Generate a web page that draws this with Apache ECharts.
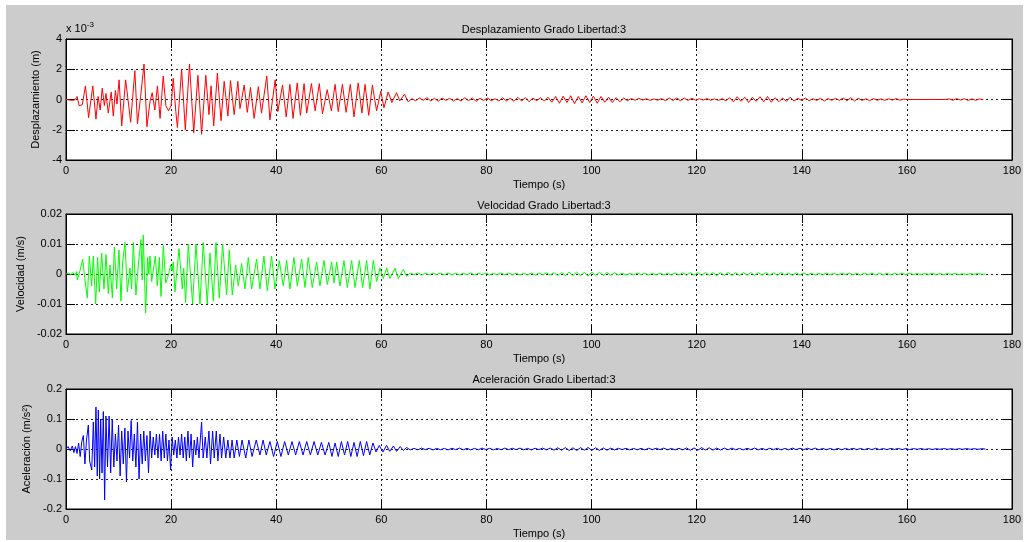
<!DOCTYPE html>
<html><head><meta charset="utf-8">
<script src="https://cdn.jsdelivr.net/npm/echarts@6/dist/echarts.min.js"></script>
<style>html,body{margin:0;padding:0;background:#fff}#c{width:1029px;height:542px}</style>
</head><body><div id="c"></div>
<script>
// ---------- DATA ----------
const titles = ['Desplazamiento Grado Libertad:3', 'Velocidad Grado Libertad:3', 'Aceleración Grado Libertad:3'];
const yNames = ['Desplazamiento (m)', 'Velocidad (m/s)', 'Aceleración (m/s²)'];
const xName = 'Tiempo (s)';
const xTicks = [0, 20, 40, 60, 80, 100, 120, 140, 160, 180];
const dispTicks = [-4, -2, 0, 2, 4];          // ×10^-3 m
const velTicks = [-0.02, -0.01, 0, 0.01, 0.02]; // m/s
const accTicks = [-0.2, -0.1, 0, 0.1, 0.2];    // m/s²

// Displacement (×10^-3 m): extremes [t, value]
const dispMain = [[0,0],[0.6,-0.03],[1.2,-0.06],[1.7,-0.02],[2.1,0.2],[2.5,-0.4],[3.1,-0.35],[3.7,0.9],[4.3,-1.2],[5.1,0.9],[5.7,-1.3],[6.1,0.2],[6.5,-0.7],[6.9,0.75],[7.3,-0.4],[7.6,0.4],[8.05,-0.9],[8.6,0.5],[9.0,-1.1],[9.4,0.6],[9.7,-0.3],[10.1,1.3],[10.6,-1.75],[11.35,1.3],[11.9,-0.3],[12.3,-1.5],[12.6,-0.2],[13.1,1.9],[13.6,-1.6],[14.2,0.2],[14.85,2.35],[15.4,-1.8],[16.0,-0.1],[16.4,0.45],[16.9,-0.7],[17.4,0.9],[17.9,-1.25],[18.5,1.55],[19.0,-0.4],[19.5,-0.75],[20.0,-0.4],[20.4,1.4],[20.9,-0.8],[21.2,-1.85],[22.0,2.0],[22.7,-2.0],[23.5,2.35],[24.3,-2.2],[25.1,1.6],[25.8,-2.3],[26.6,1.6],[27.2,-1.0],[27.6,0.9],[28.1,-1.75],[28.8,1.75],[29.5,-1.4],[30.1,1.2],[30.8,-1.1],[31.3,1.25],[32.0,-1.0],[32.7,1.2],[33.1,-0.6],[33.9,0.95],[34.5,-0.85],[35.1,0.8],[35.8,-1.25],[36.6,0.85],[37.2,-0.9],[38.2,1.55],[38.8,-1.35],[39.8,1.3],[40.3,-0.8],[41.2,0.95],[41.9,-1.15],[42.6,1.0],[43.2,-1.25],[44.0,1.1],[44.6,-1.05],[45.3,1.05],[45.8,-0.9],[46.7,1.05],[47.4,-0.75],[48.2,1.05],[48.8,-0.95],[49.7,0.65],[50.5,-0.75],[51.2,1.0],[51.8,-0.8],[52.6,1.0],[53.3,-0.85],[54.1,1.0],[54.8,-1.15],[55.6,1.1],[56.3,-0.9],[56.9,1.0],[57.6,-1.05],[58.3,0.95],[59.1,-0.75],[59.9,0.55],[60.5,-0.55],[61.3,0.5],[62.0,-0.2],[62.9,0.45],[63.5,-0.1],[64.4,0.35],[65.1,-0.15]];
const dispTailStart = 65.8, dispTailStep = 0.72;
const dispTail = [0.05,-0.08,0.1,-0.05,0.12,-0.1,0.08,-0.12,0.1,-0.06,0.08,-0.1,0.06,
-0.1,0.12,-0.08,0.1,-0.12,0.08,-0.06,0.1,-0.08,0.05,-0.1,0.12,-0.1,0.08,
-0.12,0.15,-0.1,0.12,-0.15,0.1,-0.08,0.12,-0.1,0.15,-0.18,
0.2,-0.25,0.22,-0.2,0.25,-0.28,0.2,-0.22,0.25,-0.2,0.22,
-0.25,0.2,-0.18,0.15,-0.2,0.12,-0.15,0.1,
-0.08,0.06,-0.05,0.08,-0.04,0.05,-0.06,0.04,-0.05,0.06,-0.08,0.1,-0.06,
0.1,-0.08,0.1,-0.06,0.08,-0.05,
0.05,-0.04,0.06,-0.05,0.04,-0.06,0.05,-0.08,
0.12,-0.15,0.18,-0.12,0.15,-0.2,0.15,-0.12,0.18,-0.15,0.2,-0.18,0.12,-0.15,0.1,-0.12,0.15,-0.1,
0.08,-0.06,0.1,-0.08,0.05,-0.06,0.08,-0.1,0.06,-0.05,0.08,-0.06,0.1,-0.08,0.12,-0.1,0.08,-0.06,0.05,-0.08,0.06,-0.05,0.04,-0.06,0.05,-0.04,0.06,-0.05,0.03,
0,0,0,0,0,0,0,0,0,0,0,
0.04,-0.05,0.06,-0.04,0.05,-0.06,0.04,-0.05,0.03,0];

// Velocity (mm/s): extremes [t, value]
const velMain = [[0,0],[0.5,0.3],[0.9,-0.3],[1.3,0.5],[1.7,-0.4],[2.03,0.8],[2.15,-2],[2.65,1],[3.17,5],[3.61,-2],[4.06,-8],[4.44,6],[4.88,-4],[5.2,6],[5.64,-10],[6.02,5.5],[6.34,-6],[6.79,7],[7.23,-5],[7.61,6.5],[8.05,-6.5],[8.37,3],[8.82,-8],[9.2,9],[9.64,-5],[10.08,8],[10.46,-9],[10.78,4],[11.22,10.5],[11.67,-6],[12.17,2],[12.49,-5],[12.81,10.5],[13.31,-7],[13.76,3],[14.26,11.5],[14.5,-2],[14.71,13],[15.15,-13],[15.53,5.5],[15.75,0],[15.98,6],[16.3,-2.5],[16.62,-3],[17.0,6],[17.38,-4],[17.76,5.5],[18.08,-7.5],[18.52,9.5],[18.97,-3],[19.47,-0.5],[19.91,3],[20.2,1],[20.42,4],[20.73,-6],[21.5,8.5],[22.13,-5],[22.4,2],[22.76,-9.5],[23.27,10],[24.09,-10],[24.73,10],[25.49,-10],[26.12,10.5],[26.88,-10],[27.39,7],[28.03,-9],[28.54,10.5],[29.17,-8],[29.8,10],[30.56,-7],[31.07,8],[31.64,-7],[32.28,3],[32.78,-4],[33.42,3.5],[34.05,-5],[34.69,5.5],[35.32,-5],[36.27,5],[36.9,-5],[37.66,6],[38.3,-5.5],[39.12,6],[39.76,-5],[40.58,4.5],[41.34,-4],[41.98,4.5],[42.61,-5],[43.37,5.5],[44.01,-4],[44.83,5],[45.47,-4.5],[46.1,5.5],[46.86,-4.5],[47.69,4],[48.32,-4],[49.08,4.5],[49.72,-3.5],[50.55,4],[50.99,-3],[51.5,4],[52.13,-4],[52.89,4.5],[53.53,-4.5],[54.35,4.5],[54.99,-4.5],[55.81,4.5],[56.44,-4.5],[57.2,4.5],[57.84,-5],[58.47,4.5],[59.11,-2.5],[59.74,2],[60.37,-1.5],[61.01,2],[61.64,-1.5],[62.59,2],[63.23,-1.5],[64.18,1.5],[64.81,-0.8]];
const velTailStart = 65.5, velTailStep = 0.72;
const velTail = [0.3,-0.2,0.35,-0.3,0.2,-0.25,0.3,-0.2,0.25,-0.3,0.35,-0.25,0.2,-0.3,0.25,-0.2,0.3,-0.35,0.25,-0.2,0.3,-0.25,0.2,-0.3,0.35,-0.25,0.3,-0.2,0.25,-0.3,0.2,-0.25,0.3,-0.35,0.3,-0.25,0.35,-0.3,0.4,-0.45,0.5,
-0.55,0.6,-0.5,0.65,-0.6,0.55,-0.65,0.6,-0.5,0.55,-0.45,0.5,-0.4,0.35,
-0.3,0.25,-0.3,0.2,-0.25,0.3,-0.2,0.25,-0.3,0.2,-0.25,0.3,-0.25,0.2,-0.3,0.35,-0.3,0.4,
-0.4,0.45,-0.35,0.4,-0.45,0.5,-0.4,0.45,-0.5,0.4,-0.45,0.5,-0.45,0.4,-0.5,0.45,-0.4,0.5,-0.45,0.4,-0.35,0.45,-0.4,0.35,-0.4,0.45,-0.35,0.3,-0.4,0.35,-0.3,0.35,
-0.3,0.25,-0.3,0.2,-0.25,0.3,-0.25,0.2,-0.3,0.25,-0.2,0.3,-0.25,0.2,-0.3,0.25,-0.2,0.25,-0.3,0.2,-0.25,0.2,-0.3,0.25,-0.2,0.25,-0.2,0.3,
-0.2,0.15,-0.2,0.15,-0.1,0.2,-0.15,0.1,-0.2,0.15,-0.1,0.15,-0.2,0.1,-0.15,0.1,-0.1,0.15,-0.1,0];

// Acceleration (×0.01 m/s²): extremes [t, value]
const accMain = [[0,0],[0.4,0.8],[0.8,-0.6],[1.2,1],[1.5,-1.2],[1.8,0.8],[2.1,-1.5],[2.4,2],[2.7,-2.5],[3.0,2.5],[3.3,4.5],[3.6,-5],[3.9,3],[4.25,8],[4.5,-4],[4.9,-7],[5.2,9],[5.45,-6],[5.7,14],[5.95,-9],[6.15,13],[6.4,-10],[6.6,10],[6.85,-8],[7.1,12.5],[7.35,-17],[7.6,11],[7.9,-6],[8.2,11],[8.5,-8],[8.8,10],[9.1,-6],[9.4,5],[9.7,-4],[10.0,8],[10.3,-9],[10.6,6],[10.9,-5],[11.2,7],[11.5,-11],[11.8,6],[12.1,-3],[12.4,9.5],[12.7,-4],[13.0,5],[13.3,-6],[13.6,9],[13.9,-10],[14.2,5],[14.5,-5],[14.8,6],[15.1,-4],[15.4,4.5],[15.7,-8],[16.0,6],[16.3,-3],[16.6,4],[16.9,-2],[17.2,5],[17.5,-3],[17.8,5],[18.1,-4],[18.4,6],[18.7,-3],[19.0,5],[19.3,-4],[19.6,3],[19.9,-7],[20.2,4],[20.5,-2],[20.8,3],[21.1,-3],[21.4,4],[21.7,-2],[22.0,5],[22.3,-3],[22.6,4],[22.9,-4],[23.2,6],[23.5,-3],[23.8,5],[24.1,-6],[24.4,3],[24.7,-2],[25.0,4],[25.3,-3],[25.8,9],[26.1,-3],[26.5,4],[26.8,-3],[27.2,6],[27.5,-5],[27.9,6],[28.2,-3],[28.6,6],[28.9,-4],[29.3,5],[29.6,-3],[30.0,4],[30.4,-3],[30.8,3],[31.2,-3],[31.6,3],[32.0,-3],[32.5,3],[33.0,-2.5],[33.5,3],[34.2,-3],[34.8,3],[35.4,-2.5],[36.2,3],[36.9,-2],[37.5,3],[38.1,-2],[38.8,2.5],[39.5,-2.5],[40.2,2.5],[40.9,-2.5],[41.6,2.5],[42.3,-2],[43.0,2.5],[43.7,-2],[44.4,2.5],[45.1,-2],[45.8,2.5],[46.5,-2],[47.2,2.5],[47.9,-2],[48.6,2.2],[49.3,-2],[50.0,2.2],[50.6,-2.5],[51.2,2],[51.8,-2.5],[52.4,2.5],[53.0,-2],[53.6,2.5],[54.2,-2.5],[54.8,2.2],[55.4,-2.5],[56.0,2.5],[56.6,-2.2],[57.2,2.5],[57.8,-2],[58.4,2],[59.0,-1],[59.6,1.2],[60.3,-1],[61.0,1.2],[61.6,-0.8],[62.3,1],[62.9,-0.8],[63.6,0.8],[64.2,-0.5],[64.8,0.5]];
const accTailStart = 65.5, accTailStep = 0.72;
const accTail = [-0.3,0.2,-0.25,0.3,-0.2,0.25,-0.3,0.2,-0.25,0.2,-0.3,0.25,-0.2,0.3,-0.25,0.2,-0.3,0.2,-0.25,0.3,-0.2,0.25,-0.3,0.2,-0.25,0.3,-0.2,0.25,-0.2,0.3,-0.25,0.2,-0.3,0.25,-0.2,0.3,-0.25,0.3,-0.35,0.4,-0.4,
0.45,-0.5,0.4,-0.5,0.45,-0.4,0.5,-0.45,0.4,-0.45,0.35,-0.4,0.3,-0.3,
0.25,-0.2,0.25,-0.3,0.2,-0.25,0.2,-0.3,0.25,-0.2,0.25,-0.2,0.3,-0.25,0.2,-0.3,0.25,-0.3,
0.35,-0.4,0.35,-0.4,0.45,-0.35,0.4,-0.35,0.3,-0.35,0.3,-0.25,0.3,-0.25,0.2,-0.3,0.25,-0.2,0.3,-0.25,0.2,-0.3,0.25,-0.2,0.25,-0.3,0.2,-0.25,0.3,-0.2,0.25,-0.2,
0.25,-0.2,0.3,-0.25,0.2,-0.25,0.2,-0.3,0.2,-0.25,0.2,-0.2,0.25,-0.2,0.2,-0.25,0.2,-0.2,0.25,-0.2,0.15,-0.2,0.2,-0.15,0.2,-0.2,0.15,-0.2,
0.15,-0.1,0.15,-0.15,0.1,-0.15,0.1,-0.1,0.15,-0.1,0.1,-0.15,0.1,-0.1,0.15,-0.1,0.1,-0.1,0.1,0];

// ---------- BUILD ----------
function build(main, tail, start, step, scale) {
  const out = main.map(p => [p[0], p[1] * scale]);
  tail.forEach((v, i) => out.push([+(start + i * step).toFixed(3), v * scale]));
  return out;
}
const dispData = build(dispMain, dispTail, dispTailStart, dispTailStep, 1);
const velData = build(velMain, velTail, velTailStart, velTailStep, 0.001);
const accData = build(accMain, accTail, accTailStart, accTailStep, 0.01);

const FONT = 'Liberation Sans, Arial, sans-serif';
const L = 66, W = 946;
const grids = [{top: 39, h: 121}, {top: 214, h: 120}, {top: 389, h: 120}];
const yRanges = [dispTicks, velTicks, accTicks];
const yNameGaps = [21, 38, 30];
const colors = ['#ff0000', '#00ff00', '#0000ff'];
const datas = [dispData, velData, accData];
const titleTops = [19, 195, 369];

function fmt(v) {
  if (Math.abs(v) < 1e-12) return '0';
  return String(+v.toFixed(4));
}
const gridLine = {show: true, lineStyle: {color: '#1a1a1a', type: [2, 3], width: 1}};
const tickStyle = {show: true, inside: true, length: 9, lineStyle: {color: '#000'}};

const option = {
  animation: false,
  backgroundColor: 'transparent',
  textStyle: {fontFamily: FONT},
  title: titles.map((t, i) => ({
    text: t, left: L + W / 2, top: titleTops[i], textAlign: 'center',
    textStyle: {fontFamily: FONT, fontSize: 11, fontWeight: 'normal', color: '#000'}
  })),
  grid: grids.map(g => ({left: L, top: g.top, width: W, height: g.h, show: true,
    backgroundColor: '#fff', borderColor: '#000', borderWidth: 1, containLabel: false})),
  xAxis: [],
  yAxis: [],
  series: [],
  graphic: [
    {type: 'rect', z: -10, silent: true, shape: {x: 6, y: 5, width: 1017, height: 535}, style: {fill: '#cccccc'}},
    {type: 'text', left: 66, top: 21, z: 100, style: {
      text: 'x 10{s|-3}', fill: '#000', font: '11px ' + FONT,
      rich: {s: {fontSize: 8, fontFamily: FONT, verticalAlign: 'top', padding: [0, 0, 7, 0]}}
    }}
  ]
};

for (let i = 0; i < 3; i++) {
  const ticks = yRanges[i];
  const yMin = ticks[0], yMax = ticks[ticks.length - 1], yInt = ticks[1] - ticks[0];
  option.xAxis.push({
    type: 'value', gridIndex: i, min: xTicks[0], max: xTicks[xTicks.length - 1], interval: xTicks[1] - xTicks[0],
    position: 'bottom',
    name: xName, nameLocation: 'middle', nameGap: 19,
    nameTextStyle: {fontFamily: FONT, fontSize: 11, color: '#000'},
    axisLine: {show: true, onZero: false, lineStyle: {color: '#000'}},
    axisTick: tickStyle,
    axisLabel: {fontFamily: FONT, fontSize: 11, color: '#000', margin: 5},
    splitLine: gridLine
  });
  option.xAxis.push({
    type: 'value', gridIndex: i, min: xTicks[0], max: xTicks[xTicks.length - 1], interval: xTicks[1] - xTicks[0],
    position: 'top',
    axisLine: {show: true, onZero: false, lineStyle: {color: '#000'}},
    axisTick: tickStyle, axisLabel: {show: false}, splitLine: {show: false}
  });
  option.yAxis.push({
    type: 'value', gridIndex: i, min: yMin, max: yMax, interval: yInt, position: 'left',
    name: yNames[i], nameLocation: 'middle', nameGap: yNameGaps[i],
    nameTextStyle: {fontFamily: FONT, fontSize: 11, color: '#000'},
    axisLine: {show: true, onZero: false, lineStyle: {color: '#000'}},
    axisTick: tickStyle,
    axisLabel: {fontFamily: FONT, fontSize: 11, color: '#000', margin: 4, formatter: fmt},
    splitLine: gridLine
  });
  option.yAxis.push({
    type: 'value', gridIndex: i, min: yMin, max: yMax, interval: yInt, position: 'right',
    axisLine: {show: true, onZero: false, lineStyle: {color: '#000'}},
    axisTick: tickStyle, axisLabel: {show: false}, splitLine: {show: false}
  });
  option.series.push({
    type: 'line', xAxisIndex: 2 * i, yAxisIndex: 2 * i, data: datas[i],
    showSymbol: false, symbol: 'none', sampling: null, z: 3,
    lineStyle: {color: colors[i], width: 1}
  });
}

const chart = echarts.init(document.getElementById('c'), null, {renderer: 'canvas'});
chart.setOption(option);
</script>
</body></html>
